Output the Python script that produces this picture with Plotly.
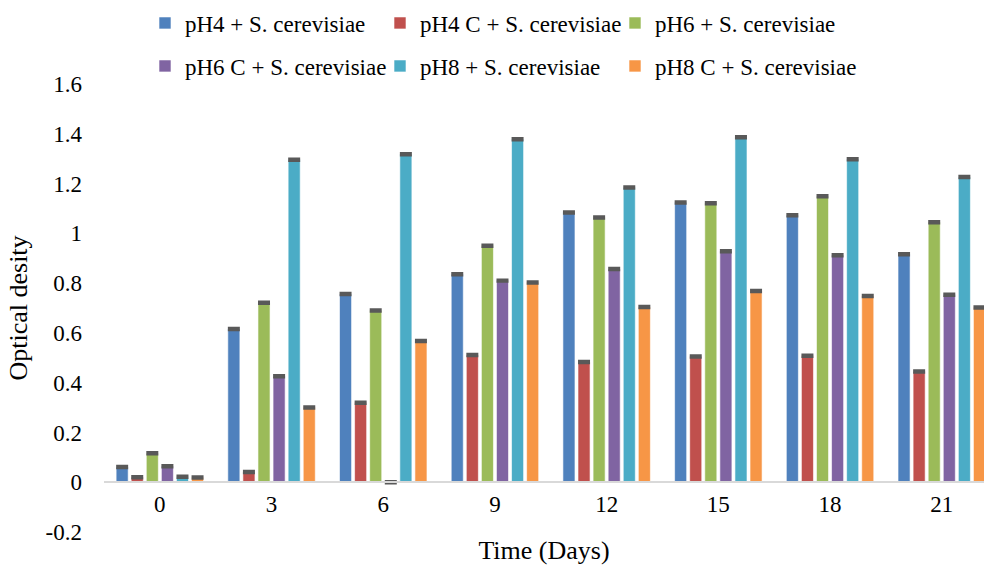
import plotly.graph_objects as go

days = ["0", "3", "6", "9", "12", "15", "18", "21"]
series_names = ["pH4 + S. cerevisiae", "pH4 C + S. cerevisiae", "pH6 + S. cerevisiae",
                "pH6 C + S. cerevisiae", "pH8 + S. cerevisiae", "pH8 C + S. cerevisiae"]
pH4 = [0.061, 0.616, 0.756, 0.836, 1.084, 1.124, 1.073, 0.916]
pH4C = [0.020, 0.041, 0.319, 0.511, 0.483, 0.505, 0.508, 0.445]
pH6 = [0.116, 0.721, 0.690, 0.950, 1.064, 1.121, 1.149, 1.045]
pH6C = [0.064, 0.426, 0.000, 0.810, 0.857, 0.928, 0.912, 0.753]
pH8 = [0.022, 1.296, 1.318, 1.378, 1.184, 1.386, 1.298, 1.226]
pH8C = [0.019, 0.300, 0.567, 0.802, 0.704, 0.768, 0.748, 0.702]
err = [0.004, 0.004, 0.004, 0.004, 0.004, 0.004, 0.004, 0.004]

y_tick_vals = [-0.2, 0, 0.2, 0.4, 0.6, 0.8, 1.0, 1.2, 1.4, 1.6]
y_tick_text = ["-0.2", "0", "0.2", "0.4", "0.6", "0.8", "1", "1.2", "1.4", "1.6"]

colors = ["#4F81BD", "#C0504D", "#9BBB59", "#8064A2", "#4BACC6", "#F79646"]
values = [pH4, pH4C, pH6, pH6C, pH8, pH8C]
legend_ids = ["legend", "legend2", "legend3", "legend4", "legend5", "legend6"]

FONT = "Liberation Serif, Times New Roman, serif"

fig = go.Figure()
for i, (name, vals, col) in enumerate(zip(series_names, values, colors)):
    fig.add_trace(go.Bar(
        x=days, y=vals, name=name, showlegend=True,
        marker=dict(color=col, line=dict(color="rgba(255,255,255,0.6)", width=1)),
        error_y=dict(type="data", array=err, visible=True, color="#595959",
                     thickness=2.5, width=6),
        legend=legend_ids[i],
    ))

W, H = 984, 567
L, R, T, B = 104, 0, 84, 35
ph = H - T - B
pw = W - L - R

def ypaper(py):
    return 1 + (T - py) / ph

def xpaper(px):
    return (px - L) / pw

legend_common = dict(
    orientation="h", xanchor="left", yanchor="middle",
    font=dict(family=FONT, size=23, color="#000000"),
    bgcolor="rgba(0,0,0,0)", itemclick=False, itemdoubleclick=False,
)
col_x = [145, 380, 615]
row_y = [23, 66]
legends = {}
for i, lid in enumerate(legend_ids):
    legends[lid] = dict(x=xpaper(col_x[i % 3]), y=ypaper(row_y[i // 3]), **legend_common)

fig.update_layout(
    width=W, height=H,
    showlegend=True,
    margin=dict(l=L, r=R, t=T, b=B),
    paper_bgcolor="white", plot_bgcolor="white",
    font=dict(family=FONT, size=23, color="#000000"),
    barmode="group", bargap=0.19, bargroupgap=0.2,
    xaxis=dict(
        type="category", range=[-0.5, -0.5 + pw / 111.7],
        anchor="free", position=0.2 / 1.8,
        showline=True, linecolor="#D9D9D9", linewidth=2,
        showgrid=False, ticks="", ticklabelstandoff=1,
        tickfont=dict(family=FONT, size=23, color="#000000"),
        title=dict(text="Time (Days)", font=dict(family=FONT, size=26, color="#000000"),
                   standoff=24),
    ),
    yaxis=dict(
        range=[-0.2, 1.6], tickvals=y_tick_vals, ticktext=y_tick_text,
        showgrid=False, zeroline=False, showline=False, ticks="",
        ticklabelstandoff=21,
        tickfont=dict(family=FONT, size=23, color="#000000"),
        title=dict(text="Optical desity", font=dict(family=FONT, size=26, color="#000000"),
                   standoff=10),
    ),
    **legends,
)

fig.write_html("out.html",
               config={"displayModeBar": False},
               post_script="document.body.style.margin='0px';document.body.style.overflow='hidden';")
